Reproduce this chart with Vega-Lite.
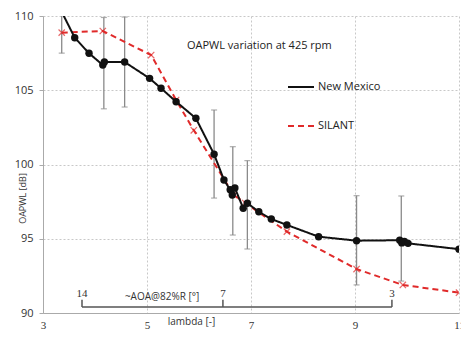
{
  "$schema": "https://vega.github.io/schema/vega-lite/v6.json",
  "width": 416,
  "height": 297,
  "padding": {"left": 43, "top": 16, "right": 2, "bottom": 36},
  "autosize": {"type": "none"},
  "background": "white",
  "config": {
    "view": {"stroke": null},
    "font": "Open Sans",
    "legend": {"orient": "none", "legendX": 244, "legendY": 57, "title": null, "symbolType": "stroke", "symbolSize": 676, "symbolStrokeWidth": 2, "labelFontSize": 11, "labelColor": "#222", "rowPadding": 20, "labelOffset": 3}
  },
  "datasets": {
    "nm": [
      {"series": "New Mexico", "lambda": 3.3, "oapwl": 110.7},
      {"series": "New Mexico", "lambda": 3.61, "oapwl": 108.54},
      {"series": "New Mexico", "lambda": 3.885, "oapwl": 107.49},
      {"series": "New Mexico", "lambda": 4.15, "oapwl": 106.7},
      {"series": "New Mexico", "lambda": 4.18, "oapwl": 106.9},
      {"series": "New Mexico", "lambda": 4.57, "oapwl": 106.9},
      {"series": "New Mexico", "lambda": 5.05, "oapwl": 105.8},
      {"series": "New Mexico", "lambda": 5.27, "oapwl": 105.13},
      {"series": "New Mexico", "lambda": 5.56, "oapwl": 104.23},
      {"series": "New Mexico", "lambda": 5.94, "oapwl": 103.11},
      {"series": "New Mexico", "lambda": 6.29, "oapwl": 100.69},
      {"series": "New Mexico", "lambda": 6.48, "oapwl": 98.96},
      {"series": "New Mexico", "lambda": 6.6, "oapwl": 98.3},
      {"series": "New Mexico", "lambda": 6.69, "oapwl": 98.42},
      {"series": "New Mexico", "lambda": 6.64, "oapwl": 97.95},
      {"series": "New Mexico", "lambda": 6.85, "oapwl": 97.05},
      {"series": "New Mexico", "lambda": 6.93, "oapwl": 97.39},
      {"series": "New Mexico", "lambda": 7.15, "oapwl": 96.82},
      {"series": "New Mexico", "lambda": 7.39, "oapwl": 96.33},
      {"series": "New Mexico", "lambda": 7.69, "oapwl": 95.93},
      {"series": "New Mexico", "lambda": 8.3, "oapwl": 95.14},
      {"series": "New Mexico", "lambda": 9.03, "oapwl": 94.87},
      {"series": "New Mexico", "lambda": 9.86, "oapwl": 94.9},
      {"series": "New Mexico", "lambda": 9.9, "oapwl": 94.72},
      {"series": "New Mexico", "lambda": 9.95, "oapwl": 94.82},
      {"series": "New Mexico", "lambda": 10.02, "oapwl": 94.69},
      {"series": "New Mexico", "lambda": 11.0, "oapwl": 94.3}
    ],
    "silant": [
      {"series": "SILANT", "lambda": 3.36, "oapwl": 108.88},
      {"series": "SILANT", "lambda": 4.15, "oapwl": 108.99},
      {"series": "SILANT", "lambda": 5.08, "oapwl": 107.37},
      {"series": "SILANT", "lambda": 5.56, "oapwl": 104.34},
      {"series": "SILANT", "lambda": 5.9, "oapwl": 102.3},
      {"series": "SILANT", "lambda": 6.67, "oapwl": 97.95},
      {"series": "SILANT", "lambda": 6.89, "oapwl": 97.4},
      {"series": "SILANT", "lambda": 7.69, "oapwl": 95.48},
      {"series": "SILANT", "lambda": 9.03, "oapwl": 92.96},
      {"series": "SILANT", "lambda": 9.92, "oapwl": 91.89},
      {"series": "SILANT", "lambda": 11.0, "oapwl": 91.37}
    ],
    "err": [
      {"lambda": 3.36, "lo": 107.5, "hi": 110.3},
      {"lambda": 4.17, "lo": 103.75, "hi": 109.9},
      {"lambda": 4.57, "lo": 103.87, "hi": 109.93},
      {"lambda": 6.29, "lo": 97.74, "hi": 103.67},
      {"lambda": 6.65, "lo": 95.25, "hi": 101.2},
      {"lambda": 6.93, "lo": 94.31, "hi": 100.26},
      {"lambda": 9.03, "lo": 91.89, "hi": 97.9},
      {"lambda": 9.89, "lo": 92.15, "hi": 97.88}
    ],
    "bracket": [
      {"x": 3.75, "x2": 9.71, "y": 90.4, "y2": 90.4},
      {"x": 3.75, "x2": 3.75, "y": 90.4, "y2": 90.9},
      {"x": 6.46, "x2": 6.46, "y": 90.4, "y2": 90.9},
      {"x": 9.71, "x2": 9.71, "y": 90.4, "y2": 90.9}
    ],
    "bracketLabels": [
      {"x": 3.75, "y": 91.25, "label": "14"},
      {"x": 6.46, "y": 91.25, "label": "7"},
      {"x": 9.71, "y": 91.25, "label": "3"}
    ]
  },
  "encoding": {
    "x": {"type": "quantitative", "scale": {"domain": [3, 11], "nice": false, "zero": false}},
    "y": {"type": "quantitative", "scale": {"domain": [90, 110], "nice": false, "zero": false}}
  },
  "layer": [
    {
      "data": {"name": "err"},
      "mark": {"type": "rule", "color": "#8a8a8a", "strokeWidth": 1.3, "clip": true},
      "encoding": {
        "x": {"field": "lambda", "type": "quantitative",
          "axis": {"values": [3, 5, 7, 9, 11], "title": "lambda [-]", "titleFontSize": 10, "titleFontWeight": "normal", "titleColor": "#333", "titleX": 148, "titleY": 8, "titleBaseline": "middle", "titleAlign": "center", "labelFont": "Liberation Serif", "labelFontSize": 11, "labelColor": "#333", "labelPadding": 6, "tickSize": 0, "domainColor": "#aaa", "grid": true, "gridColor": "#c8c8c8", "gridDash": [2, 2], "labelFlush": false}},
        "y": {"field": "lo", "type": "quantitative",
          "axis": {"values": [90, 95, 100, 105, 110], "title": "OAPWL [dB]", "titleFontSize": 9, "titleFontWeight": "normal", "titleColor": "#333", "titleX": -21, "titleY": 182, "titleAngle": -90, "titleAlign": "center", "titleBaseline": "middle", "labelFontSize": 11, "labelColor": "#333", "labelPadding": 6, "tickSize": 4, "tickColor": "#aaa", "domainColor": "#aaa", "grid": true, "gridColor": "#c8c8c8", "gridDash": [2, 2]}},
        "y2": {"field": "hi"}
      }
    },
    {
      "data": {"name": "err"},
      "transform": [{"fold": ["lo", "hi"], "as": ["end", "value"]}],
      "mark": {"type": "tick", "orient": "horizontal", "color": "#8a8a8a", "size": 6, "thickness": 1.2, "clip": true},
      "encoding": {
        "x": {"field": "lambda", "type": "quantitative"},
        "y": {"field": "value", "type": "quantitative"}
      }
    },
    {
      "data": {"name": "silant"},
      "mark": {"type": "line", "strokeWidth": 2, "clip": true},
      "encoding": {
        "x": {"field": "lambda", "type": "quantitative"},
        "y": {"field": "oapwl", "type": "quantitative"},
        "color": {"field": "series", "type": "nominal", "scale": {"domain": ["New Mexico", "SILANT"], "range": ["#111111", "#e02a2a"]}},
        "strokeDash": {"field": "series", "type": "nominal", "scale": {"domain": ["New Mexico", "SILANT"], "range": [[1, 0], [6, 4]]}}
      }
    },
    {
      "data": {"name": "silant"},
      "mark": {"type": "point", "shape": "M-1,-1L1,1M-1,1L1,-1", "filled": false, "stroke": "#e02a2a", "strokeWidth": 1.2, "size": 40, "clip": true},
      "encoding": {
        "x": {"field": "lambda", "type": "quantitative"},
        "y": {"field": "oapwl", "type": "quantitative"}
      }
    },
    {
      "data": {"name": "nm"},
      "mark": {"type": "line", "strokeWidth": 2, "clip": true},
      "encoding": {
        "x": {"field": "lambda", "type": "quantitative"},
        "y": {"field": "oapwl", "type": "quantitative"},
        "color": {"field": "series", "type": "nominal"},
        "strokeDash": {"field": "series", "type": "nominal"}
      }
    },
    {
      "data": {"name": "nm"},
      "mark": {"type": "point", "shape": "circle", "filled": true, "color": "#111111", "opacity": 1, "size": 55, "clip": true},
      "encoding": {
        "x": {"field": "lambda", "type": "quantitative"},
        "y": {"field": "oapwl", "type": "quantitative"}
      }
    },
    {
      "data": {"name": "bracket"},
      "mark": {"type": "rule", "color": "#555", "strokeWidth": 1.5},
      "encoding": {
        "x": {"field": "x", "type": "quantitative"},
        "x2": {"field": "x2"},
        "y": {"field": "y", "type": "quantitative"},
        "y2": {"field": "y2"}
      }
    },
    {
      "data": {"name": "bracketLabels"},
      "mark": {"type": "text", "font": "Liberation Serif", "fontSize": 11, "color": "#333", "baseline": "middle"},
      "encoding": {
        "x": {"field": "x", "type": "quantitative"},
        "y": {"field": "y", "type": "quantitative"},
        "text": {"field": "label"}
      }
    },
    {
      "data": {"values": [{"x": 5.29, "y": 91.1, "label": "~AOA@82%R [°]"}]},
      "mark": {"type": "text", "fontSize": 10, "color": "#333", "baseline": "middle"},
      "encoding": {
        "x": {"field": "x", "type": "quantitative"},
        "y": {"field": "y", "type": "quantitative"},
        "text": {"field": "label"}
      }
    },
    {
      "data": {"values": [{"x": 7.16, "y": 107.98, "label": "OAPWL variation at 425 rpm"}]},
      "mark": {"type": "text", "fontSize": 11, "color": "#222", "baseline": "middle"},
      "encoding": {
        "x": {"field": "x", "type": "quantitative"},
        "y": {"field": "y", "type": "quantitative"},
        "text": {"field": "label"}
      }
    }
  ]
}
